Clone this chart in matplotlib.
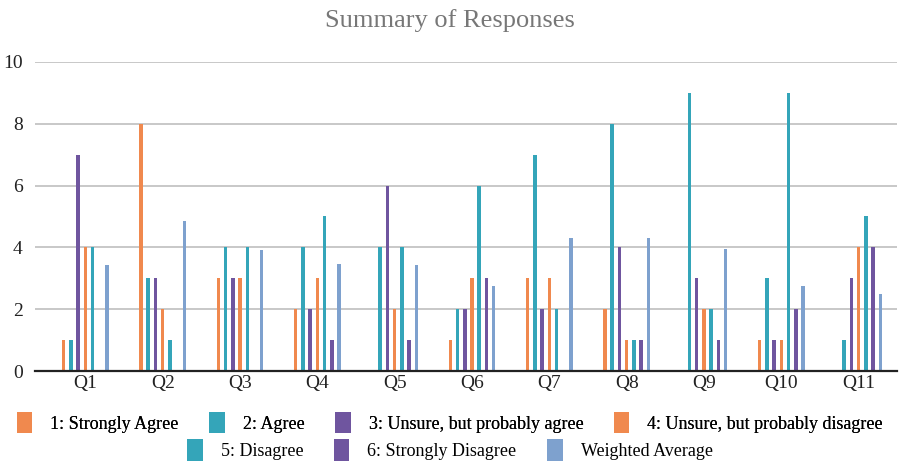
import numpy as np
import matplotlib.pyplot as plt

questions = ["Q1", "Q2", "Q3", "Q4", "Q5", "Q6", "Q7", "Q8", "Q9", "Q10", "Q11"]
series_names = ["1: Strongly Agree", "2: Agree", "3: Unsure, but probably agree",
                "4: Unsure, but probably disagree", "5: Disagree",
                "6: Strongly Disagree", "Weighted Average"]

strongly_agree = [1, 8, 3, 2, 0, 1, 3, 2, 0, 1, 0]
agree = [1, 3, 4, 4, 4, 2, 7, 8, 9, 3, 1]
unsure_agree = [7, 3, 3, 2, 6, 2, 2, 4, 3, 1, 3]
unsure_disagree = [4, 2, 3, 3, 2, 3, 3, 1, 2, 1, 4]
disagree = [4, 1, 4, 5, 4, 6, 2, 1, 2, 9, 5]
strongly_disagree = [0, 0, 0, 1, 1, 3, 0, 1, 1, 2, 4]
weighted_avg = [3.42, 4.84, 3.9, 3.47, 3.42, 2.76, 4.3, 4.3, 3.94, 2.76, 2.48]

series = [strongly_agree, agree, unsure_agree, unsure_disagree,
          disagree, strongly_disagree, weighted_avg]
colors = ["#F0894E", "#34A5B9", "#6F559F", "#F0894E", "#34A5B9", "#6F559F", "#7EA1CE"]

plt.rcParams["font.family"] = ["Liberation Serif", "DejaVu Serif"]

fig = plt.figure(figsize=(9, 4.61), dpi=100)
ax = fig.add_axes([0.039, 0.195, 0.958, 0.671])

x = np.arange(len(questions))
step = 0.0936
handles = []
for i, (vals, col) in enumerate(zip(series, colors)):
    h = ax.bar(x + (i - 3) * step, vals, width=0.045, color=col, zorder=3)
    handles.append(h)

ax.set_xlim(-0.65, 10.5)
ax.set_ylim(0, 10)
ax.set_yticks([0, 2, 4, 6, 8, 10])
ax.set_xticks(x)
ax.set_xticklabels(questions)
ax.yaxis.grid(True, color="#c8c8c8", linewidth=1.4, zorder=0)
ax.tick_params(length=0, labelsize=14, colors="#222222")
ax.tick_params(axis="x", pad=3)
ax.tick_params(axis="y", pad=9)
for s in ["top", "right", "left"]:
    ax.spines[s].set_visible(False)
ax.spines["bottom"].set_color("#222222")
ax.spines["bottom"].set_linewidth(1.6)
ax.spines["bottom"].set_zorder(4)

fig.text(0.5, 0.955, "Summary of Responses", ha="center", va="center",
         fontsize=19, color="#777777")

leg_kw = dict(frameon=False, fontsize=13, handlelength=0.85, handleheight=1.45,
              columnspacing=1.7, handletextpad=1.0, borderaxespad=0)
leg1 = fig.legend(handles[:4], series_names[:4], loc="center",
                  bbox_to_anchor=(0.5, 0.083), ncol=4, **leg_kw)
fig.add_artist(leg1)
fig.legend(handles[4:], series_names[4:], loc="center",
           bbox_to_anchor=(0.5, 0.024), ncol=3, **leg_kw)

fig.savefig("out.png", dpi=100)
